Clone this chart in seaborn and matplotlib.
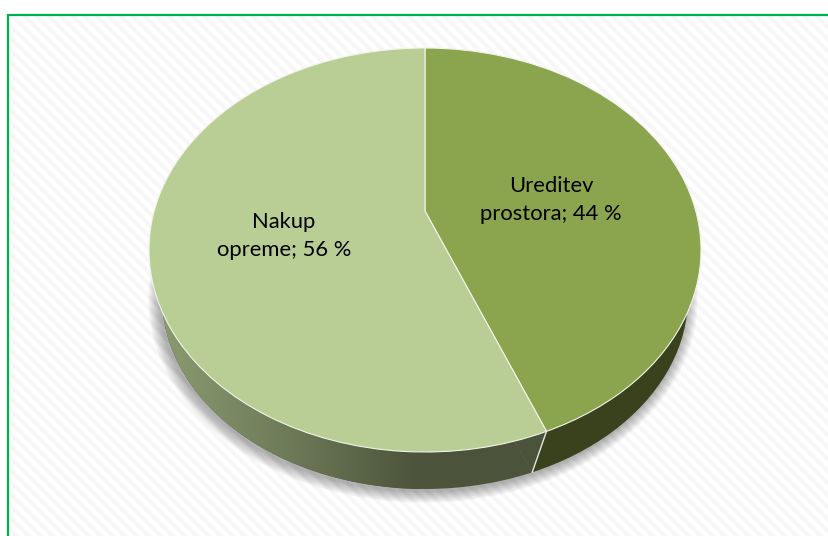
import numpy as np
import matplotlib
matplotlib.use('Agg')
import matplotlib.pyplot as plt
from matplotlib.transforms import Transform
from matplotlib.patches import Ellipse
import seaborn as sns

# podatki
labels = ['Ureditev\nprostora', 'Nakup\nopreme']
values = [44, 56]
slice_colors = ['#8BA54F', '#B9CE95']
wall_dark = '#39421C'
wall_grad = ['#8A9B70', '#6D7A58', '#4B533A']


class Tilt(Transform):
    # krog (u, v) -> nagnjena elipsa v pikslih
    input_dims = 2
    output_dims = 2

    def __init__(self, cx, cy, rx, ry, k):
        super().__init__()
        self.cx, self.cy, self.rx, self.ry, self.k = cx, cy, rx, ry, k

    def transform_non_affine(self, pts):
        pts = np.asarray(pts, dtype=float)
        u, v = pts[:, 0], pts[:, 1]
        d = 1 + self.k * v
        a = self.rx * np.sqrt(1 - self.k ** 2)
        x = self.cx + a * u / d
        y = self.cy - self.ry * (v + self.k) / d
        return np.column_stack([x, y])


sns.set_theme(style='white')
plt.rcParams['font.family'] = ['Lato', 'DejaVu Sans']

fig = plt.figure(figsize=(8.29, 5.36), dpi=100)
ax = fig.add_axes([0, 0, 1, 1])

# spodnji del (stena)
low = Tilt(425, 297, 263, 192, 0.11)
walls, _ = ax.pie(values, radius=1, startangle=90, counterclock=False,
                  colors=[wall_dark, wall_grad[-1]],
                  wedgeprops=dict(linewidth=0))
for w in walls:
    w.set_transform(low + ax.transData)
    w.set_zorder(3)

# zgornji del
top = Tilt(425, 250, 276, 202, 39 / 202)
wedges, _ = ax.pie(values, radius=1, startangle=90, counterclock=False,
                   colors=slice_colors,
                   wedgeprops=dict(linewidth=0.8, edgecolor='#F1F4EA'))
for w in wedges:
    w.set_transform(top + ax.transData)
    w.set_zorder(5)

ax.set_aspect('auto')
ax.set_xlim(0, 829)
ax.set_ylim(536, 0)
ax.set_axis_off()

# ozadje s crtami
yy, xx = np.mgrid[0:536, 0:829]
stripes = ((xx - yy) % 12 < 6).astype(float)
bg = ax.imshow(stripes, cmap=sns.blend_palette(['#F7F7F7', '#FFFFFF'], as_cmap=True),
               extent=(0, 829, 536, 0), aspect='auto', zorder=0,
               interpolation='nearest')
ax.fill_between([0, 829], 0, 14, color='white', zorder=0.5, linewidth=0)
ax.fill_between([0, 8], 0, 536, color='white', zorder=0.5, linewidth=0)

# okvir
ax.plot([8.5, 8.5, 829], [536, 14.5, 14.5], color='#00B050', lw=1.6, zorder=1,
        solid_joinstyle='miter')

# senca
for grow in np.arange(1, 13):
    ax.add_patch(Ellipse((423, 299), 2 * (263 + grow), 2 * (192 + grow),
                         color='black', alpha=0.028, lw=0, zorder=2))

# gradient na svetli steni
grad = ax.imshow(np.linspace(0, 1, 256)[None, :],
                 cmap=sns.blend_palette(wall_grad, as_cmap=True),
                 extent=(160, 420, 536, 0), aspect='auto', zorder=4)
grad.set_clip_path(walls[1])
ax.set_xlim(0, 829)
ax.set_ylim(536, 0)

# meja med rezinama na steni
ang = np.deg2rad(360 * values[0] / sum(values))
p = np.array([[np.sin(ang), np.cos(ang)]])
a, b = top.transform_non_affine(p)[0], low.transform_non_affine(p)[0]
c = low.transform_non_affine(np.array([[0.0, 0.0]]))[0]
ax.fill([a[0], b[0], c[0]], [a[1], b[1], c[1]], color=wall_grad[-1], lw=0, zorder=4.2)
ax.plot([a[0], b[0]], [a[1], b[1]], color='#E4E8DC', lw=1, zorder=4.5)

# oznake
ax.text(551, 200, f'{labels[0]}; {values[0]} %', ha='center', va='center',
        fontsize=15.8, color='black', zorder=6, linespacing=1.5)
ax.text(284, 236, f'{labels[1]}; {values[1]} %', ha='center', va='center',
        fontsize=15.8, color='black', zorder=6, linespacing=1.5)

fig.savefig('out.png', dpi=100)
